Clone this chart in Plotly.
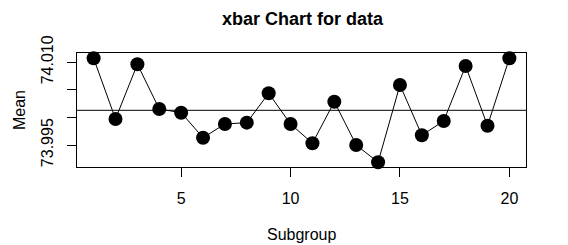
import plotly.graph_objects as go

subgroups = list(range(1, 21))
means = [74.01072, 73.99973, 74.00964, 74.00154, 74.00087, 73.99634, 73.99882, 73.99906,
         74.00438, 73.99882, 73.99533, 74.00286, 73.99502, 73.99188, 74.00589, 73.99678,
         73.99937, 74.00933, 73.99851, 74.01072]
center_line = 74.0013

x_tick_vals = [5, 10, 15, 20]
x_tick_text = ["5", "10", "15", "20"]
y_tick_vals = [73.995, 74.000, 74.005, 74.010]
y_tick_text = ["73.995", "", "", "74.010"]

fig = go.Figure()
fig.add_trace(go.Scatter(
    x=subgroups, y=means, mode="lines+markers",
    line=dict(color="black", width=1),
    marker=dict(color="black", size=14),
    showlegend=False, cliponaxis=False,
))
fig.add_shape(type="line", xref="paper", x0=0, x1=1, yref="y", y0=center_line, y1=center_line,
              line=dict(color="black", width=1))

font = "Liberation Sans, Arial, Helvetica, sans-serif"
tickfont = dict(family=font, size=16, color="black")
fig.update_layout(
    template="none",
    width=568, height=245,
    margin=dict(l=77, r=42, t=53, b=78),
    paper_bgcolor="white", plot_bgcolor="white",
    font=dict(family=font, size=16, color="black"),
    title=dict(text="<b>xbar Chart for data</b>", x=0.5326, xanchor="center", y=0.925, yanchor="middle",
               font=dict(size=18, family=font, color="black")),
    xaxis=dict(range=[0.24, 20.76], tickvals=x_tick_vals, ticktext=x_tick_text, tickfont=tickfont,
               ticks="outside", ticklen=9, tickcolor="black", tickwidth=1,
               showline=True, linecolor="black", linewidth=1, mirror=True,
               showgrid=False, zeroline=False, ticklabelstandoff=8, automargin=False),
    yaxis=dict(range=[73.99103, 74.01168], tickvals=y_tick_vals, ticktext=y_tick_text, tickfont=tickfont,
               tickangle=-90,
               ticks="outside", ticklen=9, tickcolor="black", tickwidth=1,
               showline=True, linecolor="black", linewidth=1, mirror=True,
               showgrid=False, zeroline=False, ticklabelstandoff=8, automargin=False),
    annotations=[
        dict(text="Subgroup", xref="paper", yref="paper", x=0.5, y=-0.596,
             xanchor="center", yanchor="middle", showarrow=False, font=dict(size=16, color="black")),
        dict(text="Mean", xref="paper", yref="paper", x=(19 - 77) / 449, y=0.5,
             xanchor="center", yanchor="middle", textangle=-90, showarrow=False,
             font=dict(size=16, color="black")),
    ],
)
fig.write_html("out.html", config={"displayModeBar": False},
               post_script="document.body.style.margin='0px';")
